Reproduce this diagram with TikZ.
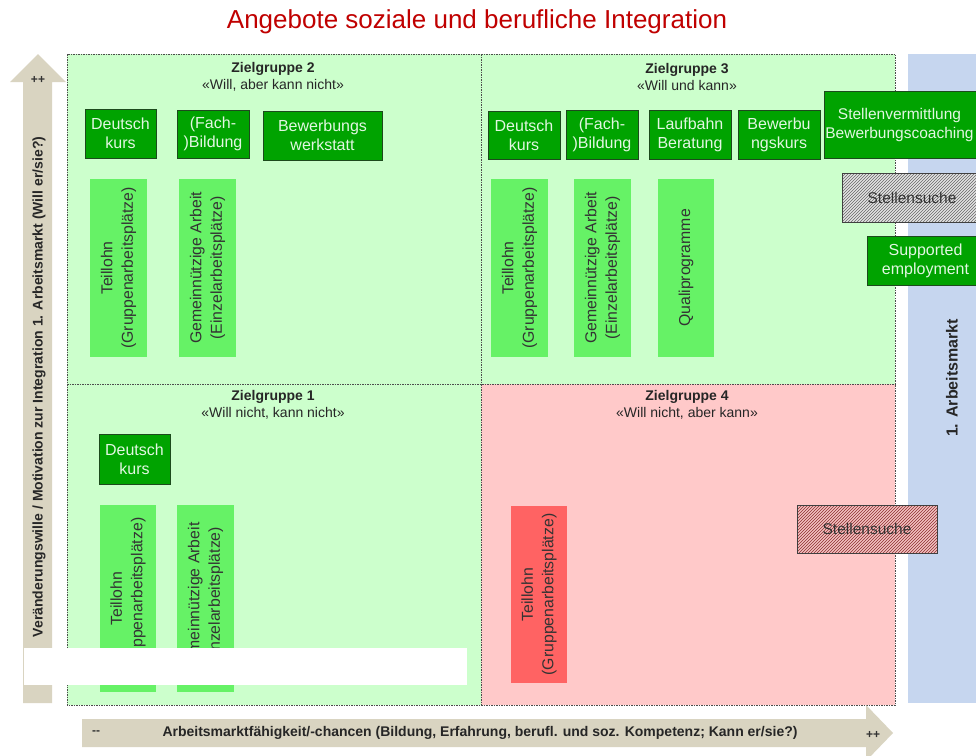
\documentclass[tikz,border=0pt]{standalone}
\usepackage{fontspec}
\setmainfont{Liberation Sans}
\usetikzlibrary{patterns}
\definecolor{ltq}{HTML}{CCFFCC}
\definecolor{pinkq}{HTML}{FFC9C9}
\definecolor{blueband}{HTML}{C6D6EF}
\definecolor{arrtan}{HTML}{D9D4C1}
\definecolor{dkgreen}{HTML}{00A300}
\definecolor{dkborder}{HTML}{1D4A1D}
\definecolor{dktext}{HTML}{E2F7E2}
\definecolor{ltbox}{HTML}{66F266}
\definecolor{redbox}{HTML}{FF6363}
\definecolor{txtgray}{HTML}{333333}
\definecolor{titlered}{HTML}{C00000}
\definecolor{hatchgray}{HTML}{E4E4E4}
\definecolor{hatchpink}{HTML}{F4C2C2}
\definecolor{hatchred}{HTML}{8C2F2F}
\begin{document}
\begin{tikzpicture}[x=1pt,y=-1pt,
  quad/.style={draw=black!70, dash pattern=on 1.5pt off 1pt, line width=0.7pt},
  dkbox/.style={draw=dkborder, fill=dkgreen, text=dktext, line width=1pt, inner sep=0pt, align=center,
     font=\fontsize{16}{19}\selectfont},
  ltvert/.style={fill=ltbox, text=txtgray, inner sep=0pt, align=center, rotate=90,
     font=\fontsize{15.8}{20.5}\selectfont},
  hatchbox/.style={draw=black!75, line width=0.8pt, inner sep=0pt, align=center,
     font=\fontsize{15.5}{19}\selectfont, text=black!80},
  header/.style={align=center, text=black!85, font=\fontsize{14}{17.5}\selectfont},
  axislabel/.style={text=black!85, font=\bfseries\fontsize{14}{16}\selectfont}
]
\useasboundingbox (0,0) rectangle (976,755);
\clip (0,0) rectangle (976,755);
\fill[white] (0,0) rectangle (976,755);

% title
\node[text=titlered, font=\fontsize{26}{30}\selectfont] (title) at (477,22) {Angebote soziale und berufliche Integration};

% blue band
\fill[blueband] (908,54) rectangle (976,703);
\node[rotate=90, font=\bfseries\fontsize{16}{19}\selectfont, text=black!85] (am) at (952,378) {1. Arbeitsmarkt};

% quadrants
\fill[ltq] (67,54) rectangle (481,384);
\fill[ltq] (481,54) rectangle (895,384);
\fill[ltq] (67,384) rectangle (481,705);
\fill[pinkq] (481,384) rectangle (895,705);
\draw[quad] (67,54) rectangle (895,705);
\draw[quad] (481,54) -- (481,705);
\draw[quad] (67,384) -- (895,384);

% headers
\node[header] (h2) at (273,77) {\textbf{Zielgruppe 2}\\«Will, aber kann nicht»};
\node[header] (h3) at (687,77) {\textbf{Zielgruppe 3}\\«Will und kann»};
\node[header] (h1) at (273,405) {\textbf{Zielgruppe 1}\\«Will nicht, kann nicht»};
\node[header] (h4) at (687,405) {\textbf{Zielgruppe 4}\\«Will nicht, aber kann»};

% Zielgruppe 2
\node[dkbox, minimum width=71pt, minimum height=49pt] (d2a) at (120.5,133.5) {Deutsch\\kurs};
\node[dkbox, minimum width=72pt, minimum height=48pt] (d2b) at (213,134) {(Fach-\\)Bildung};
\node[dkbox, minimum width=119pt, minimum height=49pt] (d2c) at (322.5,135.5) {Bewerbungs\\werkstatt};
\node[ltvert, minimum width=178pt, minimum height=57pt] (l2a) at (118.5,268) {Teillohn\\(Gruppenarbeitsplätze)};
\node[ltvert, minimum width=178pt, minimum height=57pt] (l2b) at (207.5,268) {Gemeinnützige Arbeit\\(Einzelarbeitsplätze)};

% Zielgruppe 3
\node[dkbox, minimum width=72pt, minimum height=48pt] (d3a) at (524,135) {Deutsch\\kurs};
\node[dkbox, minimum width=72pt, minimum height=49pt] (d3b) at (602,134.5) {(Fach-\\)Bildung};
\node[dkbox, minimum width=82pt, minimum height=49pt] (d3c) at (690,134.5) {Laufbahn\\Beratung};
\node[dkbox, minimum width=82pt, minimum height=49pt] (d3d) at (779,134.5) {Bewerbu\\ngskurs};
\node[ltvert, minimum width=178pt, minimum height=57pt] (l3a) at (519.5,268) {Teillohn\\(Gruppenarbeitsplätze)};
\node[ltvert, minimum width=178pt, minimum height=57pt] (l3b) at (602.5,268) {Gemeinnützige Arbeit\\(Einzelarbeitsplätze)};
\node[ltvert, minimum width=178pt, minimum height=56pt] (l3c) at (686,268) {Qualiprogramme};

% right side
\node[dkbox, minimum width=161pt, minimum height=67pt] (sv) at (904.5,124.5) {};
\node[text=dktext, align=center, inner sep=0pt, font=\fontsize{15.5}{19}\selectfont] (svt) at (899.5,124.5) {Stellenvermittlung\\Bewerbungscoaching};
\node[hatchbox, minimum width=140pt, minimum height=49pt,
  preaction={fill=hatchgray}, pattern=north east lines, pattern color=black!60] (ss1) at (912,197.5) {Stellensuche};
\node[dkbox, minimum width=117pt, minimum height=49pt] (se) at (925.5,260.5) {Supported\\employment};

% Zielgruppe 1
\node[dkbox, minimum width=71pt, minimum height=50pt] (d1a) at (134.5,459) {Deutsch\\kurs};
\node[ltvert, minimum width=187pt, minimum height=56pt] (l1a) at (128,598.5) {Teillohn\\(Gruppenarbeitsplätze)};
\node[ltvert, minimum width=187pt, minimum height=57pt] (l1b) at (205.5,598.5) {Gemeinnützige Arbeit\\(Einzelarbeitsplätze)};

% Zielgruppe 4
\node[ltvert, fill=redbox, minimum width=177pt, minimum height=56pt] (r4a) at (539,594.5) {Teillohn\\(Gruppenarbeitsplätze)};
\node[hatchbox, minimum width=140pt, minimum height=48pt,
  preaction={fill=hatchpink}, pattern=north east lines, pattern color=hatchred] (ss4) at (867,529) {Stellensuche};

% axes arrows
\fill[arrtan] (23,703) -- (23,82) -- (10,82) -- (38,54) -- (66,82) -- (52,82) -- (52,703) -- cycle;
\fill[arrtan] (82,719) -- (866,719) -- (866,705) -- (893,733) -- (866,761) -- (866,747) -- (82,747) -- cycle;
\node[axislabel, rotate=90] (ylab) at (39,387) {Veränderungswille / Motivation zur Integration 1. Arbeitsmarkt (Will er/sie?)};
\node[axislabel] (xlab) at (480,733) {Arbeitsmarktfähigkeit/-chancen (Bildung, Erfahrung, berufl. und soz. Kompetenz; Kann er/sie?)};
\node[font=\bfseries\fontsize{12}{14}\selectfont, text=black!80] (ypp) at (38,80) {++};
\node[font=\bfseries\fontsize{12}{14}\selectfont, text=black!80] (xmm) at (96,733) {{-}{-}};
\node[font=\bfseries\fontsize{12}{14}\selectfont, text=black!80] (xpp) at (873,735) {++};

% white cover
\fill[white] (24,648) rectangle (467,685);
\end{tikzpicture}
\end{document}
